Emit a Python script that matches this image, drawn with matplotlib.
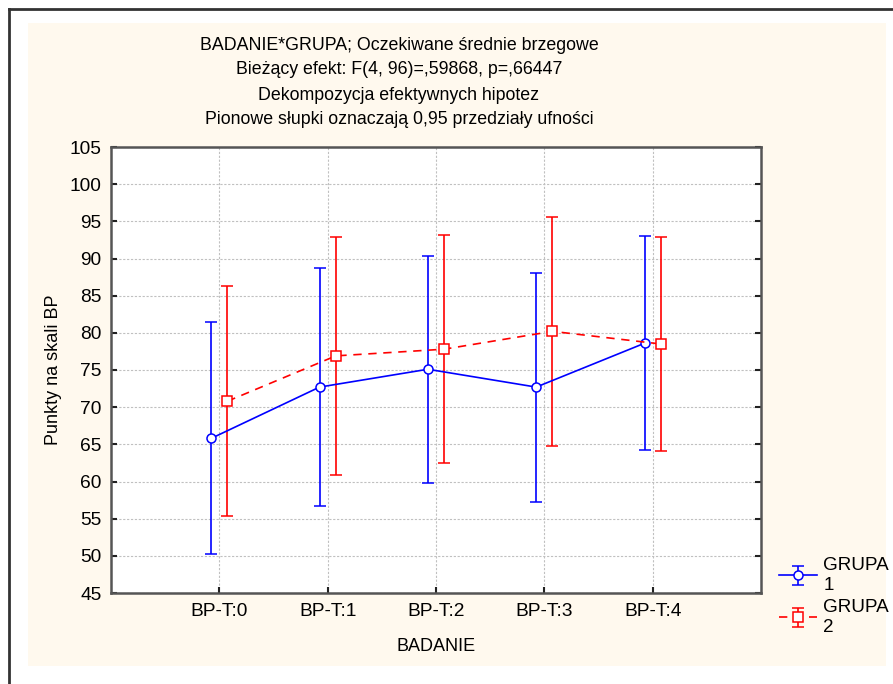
import matplotlib
matplotlib.use("Agg")
import matplotlib.pyplot as plt
import numpy as np

plt.rcParams['font.family'] = ['Liberation Sans', 'DejaVu Sans']

# dane
badanie = ['BP-T:0', 'BP-T:1', 'BP-T:2', 'BP-T:3', 'BP-T:4']
grupa1_mean = [65.8, 72.7, 75.1, 72.7, 78.6]
grupa1_ci = [15.6, 16.0, 15.3, 15.4, 14.4]
grupa2_mean = [70.8, 76.9, 77.8, 80.2, 78.5]
grupa2_ci = [15.5, 16.0, 15.3, 15.4, 14.4]

fig = plt.figure(figsize=(8.93, 6.84), dpi=100)
W, H = 893, 684

# bezowe tlo i ramka
fig.patches.append(plt.Rectangle((28 / W, 1 - 666 / H), (886 - 28) / W, (666 - 23) / H,
                                 transform=fig.transFigure, facecolor='#fff9ee', edgecolor='none', zorder=-10))
fig.lines.append(plt.Line2D([8.5 / W, 8.5 / W], [0, 1 - 9 / H], transform=fig.transFigure, color='#333333', lw=2))
fig.lines.append(plt.Line2D([8.5 / W, 1], [1 - 9 / H, 1 - 9 / H], transform=fig.transFigure, color='#333333', lw=2))

ax = fig.add_axes([111 / W, 1 - 593 / H, (761 - 111) / W, (593 - 147) / H])
ax.set_facecolor('white')

x = np.arange(len(badanie))
off = 0.075
e1 = ax.errorbar(x - off, grupa1_mean, yerr=grupa1_ci, color='#0000ff', lw=1.2, marker='o', ms=6.5,
                 mfc='white', mec='#0000ff', mew=1.1, capsize=4, elinewidth=1.2, capthick=1.2, zorder=3)
e2 = ax.errorbar(x + off, grupa2_mean, yerr=grupa2_ci, color='#ff0000', lw=1.2, ls=(0, (5, 4)), marker='s', ms=7,
                 mfc='white', mec='#ff0000', mew=1.1, capsize=4, elinewidth=1.2, capthick=1.2, zorder=3)

ax.set_xlim(-1, 5)
ax.set_ylim(45, 105)
ax.set_yticks(np.arange(45, 106, 5))
ax.set_xticks(x)
ax.set_xticklabels(badanie)
ax.grid(True, color='#c0c0c0', ls=(0, (2, 1.5)), lw=0.8)
ax.set_axisbelow(True)
ax.tick_params(direction='in', length=4, width=1.5, labelsize=13.8, pad=7, right=True, color='#222222')
for s in ax.spines.values():
    s.set_color('#555555')
    s.set_linewidth(1.8)

ax.set_xlabel('BADANIE', fontsize=13, labelpad=13)
ax.set_ylabel('Punkty na skali BP', fontsize=13, labelpad=5)

tytul = ['BADANIE*GRUPA; Oczekiwane średnie brzegowe',
         'Bieżący efekt: F(4, 96)=,59868, p=,66447',
         'Dekompozycja efektywnych hipotez',
         'Pionowe słupki oznaczają 0,95 przedziały ufności']
for i, t in enumerate(tytul):
    fig.text(399 / W, 1 - (45 + i * 25) / H, t, ha='center', va='center', fontsize=12.75)

fig.legend([e1, e2], ['GRUPA\n1', 'GRUPA\n2'], loc='upper left', bbox_to_anchor=(762 / W, 1 - 540 / H),
           frameon=False, fontsize=13.6, handlelength=2.0, handletextpad=0.35, labelspacing=0.3)

fig.savefig('out.png', dpi=100)
